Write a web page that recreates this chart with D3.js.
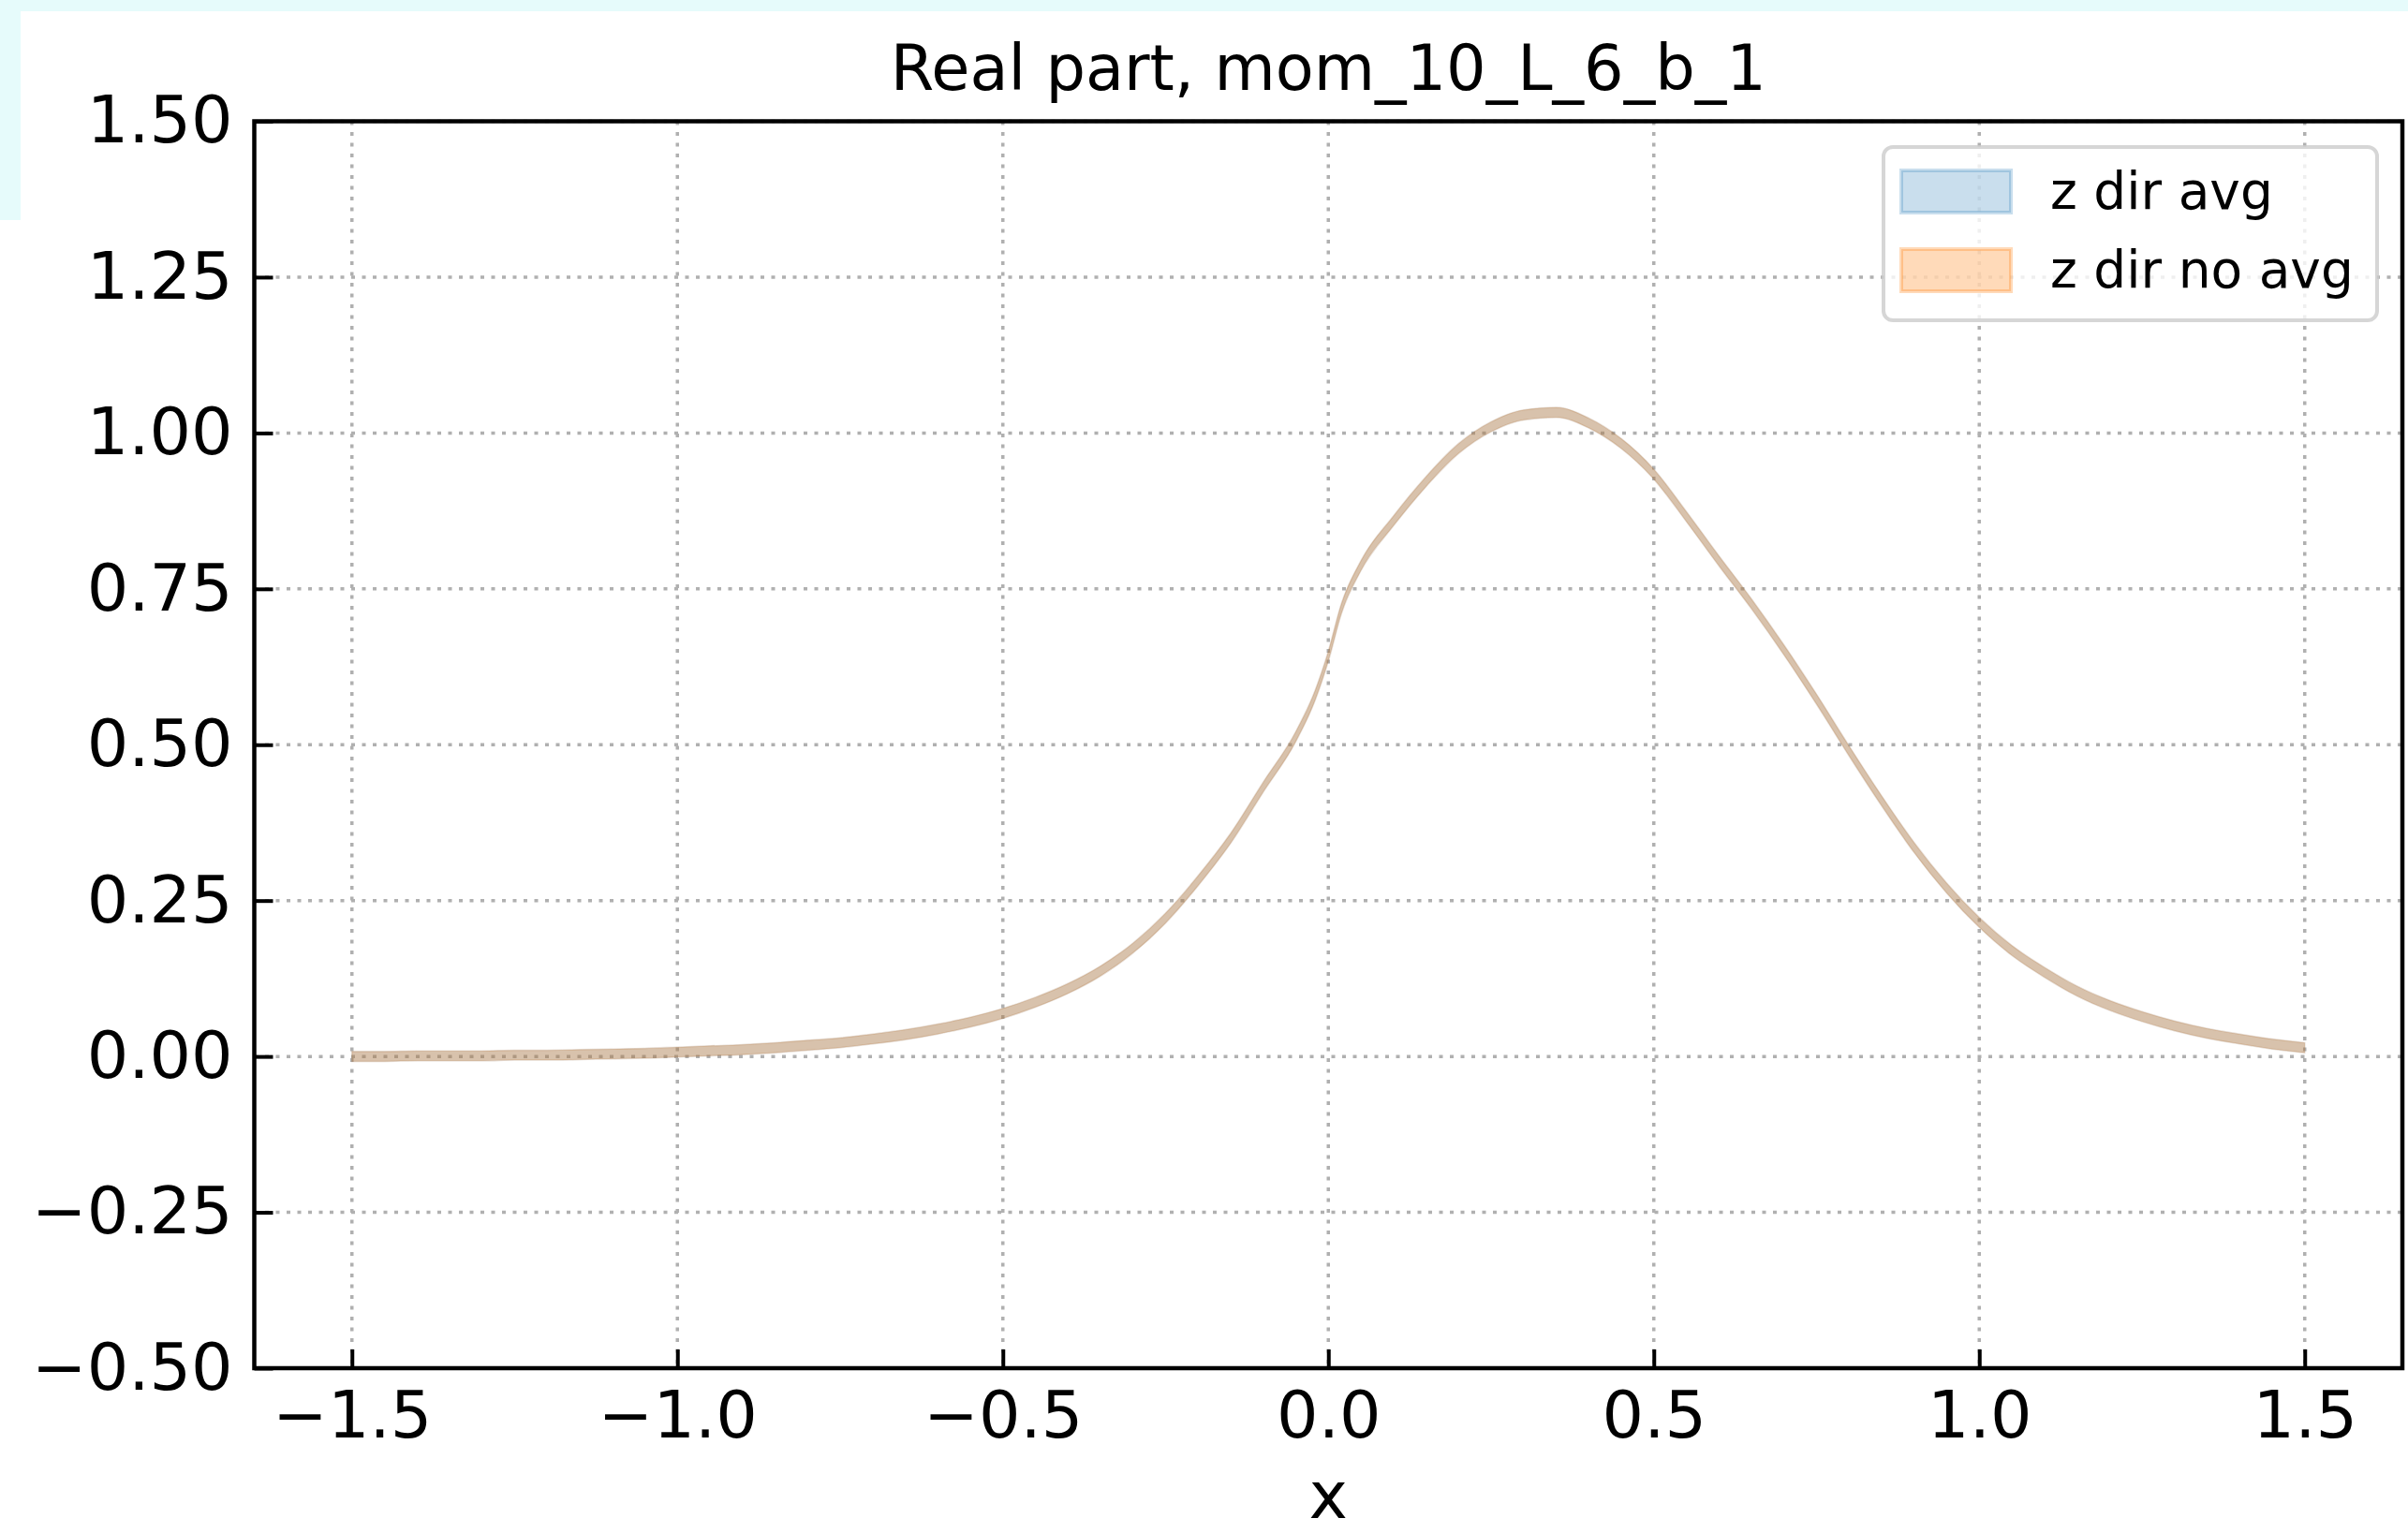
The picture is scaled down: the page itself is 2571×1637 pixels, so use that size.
<!DOCTYPE html>
<html>
<head>
<meta charset="utf-8">
<script src="https://cdnjs.cloudflare.com/ajax/libs/d3/7.8.5/d3.min.js"></script>
<style>
  html, body { margin: 0; padding: 0; background: #fff; }
  svg { display: block; font-family: "DejaVu Sans", sans-serif; }
</style>
</head>
<body>
<svg id="chart" width="2571" height="1637"></svg>
<script>
// Sample positions and values
const xs = [
  -1.50, -1.45, -1.40, -1.35, -1.30, -1.25, -1.20, -1.15, -1.10, -1.05,
  -1.00, -0.95, -0.90, -0.85, -0.80, -0.75, -0.70, -0.65, -0.60, -0.55,
  -0.50, -0.45, -0.40, -0.35, -0.30, -0.25, -0.20, -0.15, -0.10, -0.05,
  -0.02, 0.00, 0.02, 0.05, 0.10, 0.15, 0.20, 0.25, 0.30, 0.35,
  0.40, 0.45, 0.50, 0.55, 0.60, 0.65, 0.70, 0.75, 0.80, 0.85,
  0.90, 0.95, 1.00, 1.05, 1.10, 1.15, 1.20, 1.25, 1.30, 1.35,
  1.40, 1.45, 1.50
];
const zAvg = [
  0.000, 0.000, 0.001, 0.001, 0.001, 0.002, 0.002, 0.003, 0.004, 0.005,
  0.007, 0.009, 0.011, 0.014, 0.018, 0.022, 0.028, 0.035, 0.044, 0.055,
  0.069, 0.087, 0.109, 0.137, 0.174, 0.222, 0.282, 0.350, 0.432, 0.513,
  0.580, 0.642, 0.718, 0.787, 0.859, 0.922, 0.975, 1.010, 1.029, 1.033,
  1.016, 0.983, 0.934, 0.866, 0.795, 0.726, 0.652, 0.573, 0.490, 0.410,
  0.335, 0.270, 0.215, 0.170, 0.135, 0.105, 0.082, 0.064, 0.049, 0.037,
  0.028, 0.020, 0.014
];
const zNoAvg = [
  0.000, 0.000, 0.001, 0.001, 0.001, 0.002, 0.002, 0.003, 0.004, 0.005,
  0.007, 0.009, 0.011, 0.014, 0.018, 0.022, 0.028, 0.035, 0.044, 0.055,
  0.069, 0.087, 0.109, 0.137, 0.174, 0.222, 0.282, 0.350, 0.432, 0.513,
  0.580, 0.642, 0.718, 0.787, 0.859, 0.922, 0.975, 1.010, 1.029, 1.033,
  1.016, 0.983, 0.934, 0.866, 0.795, 0.726, 0.652, 0.573, 0.490, 0.410,
  0.335, 0.270, 0.215, 0.170, 0.135, 0.105, 0.082, 0.064, 0.049, 0.037,
  0.028, 0.020, 0.014
];
const errAvg = 0.008;
const errNoAvg = 0.008;

const xTicks = [-1.5, -1.0, -0.5, 0.0, 0.5, 1.0, 1.5];
const yTicks = [-0.5, -0.25, 0.0, 0.25, 0.5, 0.75, 1.0, 1.25, 1.5];
const seriesNames = ['z dir avg', 'z dir no avg'];
const seriesColors = ['#1f77b4', '#ff7f0e'];
const seriesAlpha = [0.24, 0.29];
const titleText = 'Real part, mom_10_L_6_b_1';
const xLabelText = 'x';

const W = 2571, H = 1637;
const plot = { left: 271.5, right: 2565, top: 129.5, bottom: 1461 };

const svg = d3.select('#chart');

// page background with the light cyan strips
svg.append('rect').attr('width', W).attr('height', H).attr('fill', '#ffffff');
svg.append('rect').attr('width', W).attr('height', 12).attr('fill', '#e6fbfb');
svg.append('rect').attr('width', 22).attr('height', 235).attr('fill', '#e6fbfb');

const x = d3.scaleLinear().domain([-1.65, 1.65]).range([plot.left, plot.right]);
const y = d3.scaleLinear().domain([-0.5, 1.5]).range([plot.bottom, plot.top]);

const fmtMinus = s => s.replace('-', '\u2212');

// grid
const grid = svg.append('g').attr('stroke', '#b0b0b0').attr('stroke-width', 3.5)
  .attr('stroke-dasharray', '4,7.5');
grid.selectAll('.gx').data(xTicks).join('line')
  .attr('x1', d => x(d)).attr('x2', d => x(d))
  .attr('y1', plot.top).attr('y2', plot.bottom);
grid.selectAll('.gy').data(yTicks).join('line')
  .attr('y1', d => y(d)).attr('y2', d => y(d))
  .attr('x1', plot.left).attr('x2', plot.right);

// bands
const series = [
  { name: seriesNames[0], color: seriesColors[0], alpha: seriesAlpha[0], vals: zAvg, err: errAvg },
  { name: seriesNames[1], color: seriesColors[1], alpha: seriesAlpha[1], vals: zNoAvg, err: errNoAvg }
];

series.forEach(s => {
  const area = d3.area()
    .x((d, i) => x(xs[i]))
    .y0(d => y(d - s.err))
    .y1(d => y(d + s.err))
    .curve(d3.curveMonotoneX);
  svg.append('path')
    .datum(s.vals)
    .attr('d', area)
    .attr('fill', s.color)
    .attr('fill-opacity', s.alpha)
    .attr('stroke', s.color)
    .attr('stroke-opacity', s.alpha * 0.5)
    .attr('stroke-width', 1.5);
});

// axes, ticks pointing inward
const xAxis = d3.axisBottom(x).tickValues(xTicks)
  .tickFormat(d => fmtMinus(d3.format('.1f')(d)))
  .tickSizeInner(-20).tickSizeOuter(0).tickPadding(24);
const yAxis = d3.axisLeft(y).tickValues(yTicks)
  .tickFormat(d => fmtMinus(d3.format('.2f')(d)))
  .tickSizeInner(-20).tickSizeOuter(0).tickPadding(23);

const gx = svg.append('g').attr('transform', `translate(0,${plot.bottom})`).call(xAxis);
const gy = svg.append('g').attr('transform', `translate(${plot.left},0)`).call(yAxis);
[gx, gy].forEach(g => {
  g.select('.domain').remove();
  g.selectAll('.tick line').attr('stroke', '#000').attr('stroke-width', 4);
  g.selectAll('.tick text').attr('fill', '#000')
    .style('font-family', '"DejaVu Sans", sans-serif').style('font-size', '70px');
});

// frame
svg.append('rect')
  .attr('x', plot.left).attr('y', plot.top)
  .attr('width', plot.right - plot.left).attr('height', plot.bottom - plot.top)
  .attr('fill', 'none').attr('stroke', '#000').attr('stroke-width', 4.5);

// title and axis label
svg.append('text').attr('x', (plot.left + plot.right) / 2).attr('y', 96)
  .attr('text-anchor', 'middle').style('font-size', '67px').text(titleText);
svg.append('text').attr('x', (plot.left + plot.right) / 2).attr('y', 1621)
  .attr('text-anchor', 'middle').style('font-size', '70px').text(xLabelText);

// legend
const lg = svg.append('g');
lg.append('rect').attr('x', 2011).attr('y', 157).attr('width', 527).attr('height', 185)
  .attr('rx', 10).attr('fill', '#fff').attr('fill-opacity', 0.8)
  .attr('stroke', '#cccccc').attr('stroke-opacity', 0.8).attr('stroke-width', 4);
series.forEach((s, i) => {
  const yy = 182 + i * 84;
  lg.append('rect').attr('x', 2030).attr('y', yy).attr('width', 117).attr('height', 45)
    .attr('fill', s.color).attr('fill-opacity', s.alpha)
    .attr('stroke', s.color).attr('stroke-opacity', s.alpha).attr('stroke-width', 4);
  lg.append('text').attr('x', 2189).attr('y', yy + 41)
    .style('font-size', '55px').text(s.name);
});
</script>
</body>
</html>
